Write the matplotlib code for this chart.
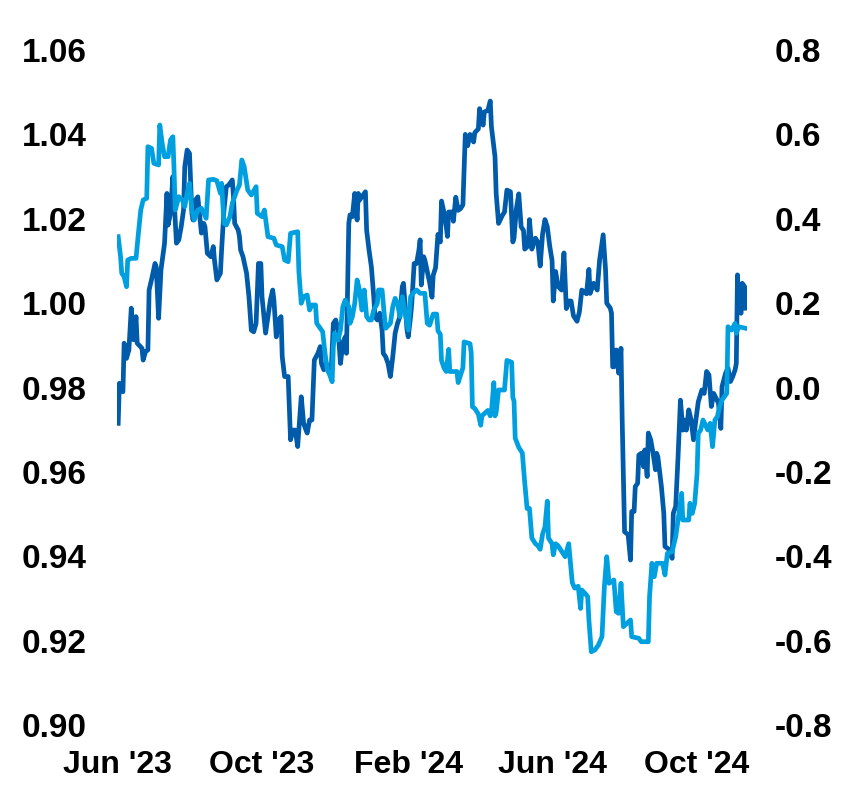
import matplotlib
matplotlib.use("Agg")
import numpy as np
import pandas as pd
import matplotlib.pyplot as plt
import matplotlib.dates as mdates
from matplotlib.ticker import FormatStrFormatter

# days counted from 1 Jun 2023
start = pd.Timestamp("2023-06-01")

dark_day = [1, 2, 5, 6, 8, 10, 12, 14, 16, 17, 21, 22, 24, 26, 27, 29, 32, 33, 35, 37,
            40, 42, 43, 45, 47, 50, 52, 54, 56, 57, 59, 61, 63, 64, 66, 68, 71, 73, 74, 76,
            79, 81, 82, 84, 87, 88, 90, 92, 94, 97, 98, 99, 102, 103, 104, 106, 109, 111, 113, 115,
            117, 119, 121, 122, 125, 129, 131, 132, 134, 136, 138, 139, 141, 144, 146, 148, 150, 152, 155, 157,
            159, 160, 162, 164, 166, 169, 171, 172, 174, 176, 178, 180, 182, 184, 186, 188, 190, 192, 193, 195,
            196, 198, 200, 202, 203, 204, 206, 209, 210, 212, 214, 216, 217, 219, 221, 223, 224, 226, 228, 230,
            232, 234, 236, 238, 240, 241, 244, 245, 247, 248, 250, 252, 254, 255, 256, 258, 259, 261, 263, 265,
            266, 268, 270, 272, 273, 275, 277, 278, 279, 282, 283, 285, 287, 289, 291, 293, 295, 297, 300, 301,
            304, 305, 308, 309, 312, 314, 315, 318, 319, 321, 324, 326, 328, 331, 333, 334, 336, 338, 340, 342,
            343, 346, 347, 349, 352, 354, 356, 358, 360, 362, 364, 366, 367, 369, 371, 374, 376, 378, 380, 382,
            384, 387, 389, 391, 393, 395, 397, 398, 401, 404, 406, 409, 411, 412, 415, 416, 417, 418, 420, 422,
            424, 425, 427, 430, 432, 433, 435, 436, 438, 439, 441, 443, 444, 446, 447, 449, 451, 453, 454, 455,
            458, 460, 461, 465, 467, 468, 470, 472, 474, 476, 477, 479, 481, 483, 485, 487, 489, 492, 494, 496,
            498, 500, 502, 506, 508, 509, 512, 514, 516, 518, 520, 521, 522, 523, 525, 526, 528, 529]
dark_val = [0.9715, 0.9810, 0.9790, 0.9905, 0.9869, 0.9889, 0.9988, 0.9913, 0.9968, 0.9905,
            0.9893, 0.9865, 0.9885, 0.9889, 1.0031, 1.0055, 1.0094, 1.0086, 0.9964, 1.0079,
            1.0142, 1.0260, 1.0185, 1.0213, 1.0300, 1.0142, 1.0150, 1.0181, 1.0221, 1.0323,
            1.0363, 1.0355, 1.0213, 1.0197, 1.0244, 1.0252, 1.0166, 1.0189, 1.0181, 1.0118,
            1.0110, 1.0134, 1.0102, 1.0055, 1.0071, 1.0126, 1.0221, 1.0276, 1.0280, 1.0292,
            1.0252, 1.0189, 1.0173, 1.0158, 1.0126, 1.0110, 1.0071, 1.0015, 0.9936, 0.9932,
            0.9952, 1.0094, 1.0094, 1.0015, 0.9929, 1.0007, 1.0031, 1.0007, 0.9920, 0.9960,
            0.9968, 0.9873, 0.9826, 0.9826, 0.9676, 0.9699, 0.9699, 0.9660, 0.9778, 0.9715,
            0.9699, 0.9692, 0.9723, 0.9723, 0.9865, 0.9881, 0.9897, 0.9857, 0.9842, 0.9857,
            0.9842, 0.9826, 0.9952, 0.9960, 0.9936, 0.9857, 0.9905, 0.9920, 0.9881, 1.0189,
            1.0209, 1.0205, 1.0260, 1.0197, 1.0260, 1.0244, 1.0252, 1.0264, 1.0173, 1.0126,
            1.0086, 1.0015, 0.9968, 0.9960, 0.9976, 0.9936, 0.9881, 0.9873, 0.9857, 0.9826,
            0.9873, 0.9929, 0.9952, 0.9968, 1.0039, 1.0047, 0.9936, 0.9920, 0.9968, 1.0000,
            1.0094, 1.0094, 1.0126, 1.0150, 1.0043, 1.0110, 1.0102, 1.0075, 1.0049, 1.0014,
            1.0066, 1.0084, 1.0163, 1.0145, 1.0242, 1.0216, 1.0181, 1.0158, 1.0216, 1.0216,
            1.0194, 1.0251, 1.0220, 1.0224, 1.0233, 1.0400, 1.0373, 1.0400, 1.0382, 1.0404,
            1.0413, 1.0461, 1.0422, 1.0453, 1.0457, 1.0479, 1.0418, 1.0347, 1.0259, 1.0189,
            1.0207, 1.0216, 1.0268, 1.0264, 1.0145, 1.0154, 1.0224, 1.0259, 1.0181, 1.0172,
            1.0128, 1.0136, 1.0198, 1.0128, 1.0154, 1.0145, 1.0088, 1.0163, 1.0198, 1.0181,
            1.0136, 1.0101, 1.0005, 1.0075, 1.0040, 1.0031, 1.0119, 0.9987, 1.0005, 1.0005,
            0.9970, 0.9957, 0.9979, 1.0031, 1.0027, 1.0022, 1.0080, 1.0023, 1.0047, 1.0031,
            1.0102, 1.0162, 1.0079, 1.0000, 0.9988, 0.9976, 0.9849, 0.9849, 0.9889, 0.9834,
            0.9893, 0.9723, 0.9458, 0.9451, 0.9391, 0.9506, 0.9506, 0.9565, 0.9573, 0.9640,
            0.9644, 0.9612, 0.9652, 0.9589, 0.9692, 0.9676, 0.9644, 0.9605, 0.9644, 0.9636,
            0.9565, 0.9502, 0.9423, 0.9415, 0.9395, 0.9502, 0.9518, 0.9636, 0.9770, 0.9699,
            0.9723, 0.9699, 0.9747, 0.9723, 0.9676, 0.9723, 0.9766, 0.9794, 0.9786, 0.9838,
            0.9830, 0.9755, 0.9786, 0.9763, 0.9703, 0.9802, 0.9834, 0.9846, 0.9814, 0.9826,
            0.9842, 0.9857, 1.0067, 0.9992, 0.9976, 1.0047, 1.0039, 0.9988]

light_day = [1, 3, 4, 6, 8, 9, 12, 16, 18, 20, 22, 25, 26, 29, 31, 35, 36, 38, 40, 43,
             45, 47, 48, 49, 52, 55, 57, 59, 61, 63, 65, 68, 71, 73, 75, 77, 81, 84, 87, 88,
             90, 92, 95, 97, 101, 103, 105, 107, 110, 113, 117, 118, 122, 124, 127, 132, 134, 139, 141, 144,
             146, 152, 153, 155, 157, 160, 162, 164, 167, 168, 173, 175, 177, 179, 181, 182, 183, 186, 188, 190,
             192, 195, 196, 198, 200, 202, 204, 206, 208, 210, 212, 214, 216, 219, 220, 223, 225, 226, 230, 232,
             234, 236, 238, 240, 242, 245, 247, 249, 252, 255, 259, 261, 263, 266, 269, 270, 272, 273, 275, 277,
             279, 280, 286, 287, 289, 291, 292, 297, 298, 299, 301, 304, 306, 307, 312, 314, 315, 317, 318, 319,
             321, 326, 328, 332, 333, 334, 335, 338, 341, 343, 345, 347, 349, 352, 354, 356, 358, 360, 362, 363,
             366, 367, 369, 371, 374, 377, 380, 383, 385, 388, 390, 391, 394, 396, 397, 399, 402, 405, 408, 410,
             412, 414, 418, 420, 422, 424, 426, 432, 433, 439, 441, 447, 448, 450, 452, 454, 459, 461, 463, 467,
             470, 472, 475, 476, 481, 482, 484, 486, 488, 489, 491, 493, 497, 499, 501, 503, 505, 507, 509, 513,
             514, 517, 520, 521, 523, 529]
light_val = [0.3575, 0.3100, 0.2707, 0.2626, 0.2389, 0.3022, 0.3062, 0.3062, 0.3655, 0.4207,
             0.4444, 0.4485, 0.5708, 0.5670, 0.5314, 0.5274, 0.6222, 0.5788, 0.5471, 0.5471,
             0.5867, 0.5945, 0.5156, 0.4207, 0.4523, 0.4444, 0.4286, 0.4603, 0.4840, 0.4207,
             0.3970, 0.4207, 0.4248, 0.4129, 0.4011, 0.4919, 0.4935, 0.4902, 0.4603, 0.4840,
             0.3892, 0.3852, 0.4049, 0.4366, 0.4681, 0.4800, 0.5393, 0.5234, 0.4681, 0.4563,
             0.4760, 0.4129, 0.4049, 0.4207, 0.3575, 0.3537, 0.3378, 0.3338, 0.3022, 0.2982,
             0.3655, 0.3693, 0.2745, 0.1996, 0.2152, 0.2193, 0.1837, 0.1956, 0.1956, 0.1522,
             0.1323, 0.0811, 0.0415, 0.0296, 0.0137, 0.0967, 0.1285, 0.1126, 0.1363, 0.1915,
             0.2074, 0.1915, 0.1522, 0.1678, 0.1996, 0.2548, 0.2311, 0.1837, 0.2311, 0.1678,
             0.1600, 0.1600, 0.1837, 0.1996, 0.2311, 0.2311, 0.1678, 0.1403, 0.1522, 0.1915,
             0.2114, 0.1996, 0.1678, 0.2152, 0.1837, 0.1363, 0.2152, 0.2233, 0.2311, 0.2233,
             0.2233, 0.1522, 0.1477, 0.1740, 0.1740, 0.1346, 0.1259, 0.0642, 0.0467, 0.0379,
             0.0905, 0.0379, 0.0379, 0.0116, 0.0291, 0.0467, 0.1081, 0.1038, 0.0818, -0.0455,
             -0.0498, -0.0631, -0.0894, -0.0673, -0.0543, -0.0673, -0.0586, 0.0116, -0.0673, -0.0586,
             -0.0059, -0.0059, 0.0642, 0.0600, -0.0235, -0.0322, -0.1200, -0.1420, -0.1553, -0.2254,
             -0.2868, -0.2868, -0.3570, -0.3703, -0.3748, -0.3835, -0.3482, -0.3307, -0.2693, -0.3570,
             -0.3703, -0.3966, -0.3703, -0.3748, -0.3878, -0.4011, -0.3703, -0.4625, -0.4755, -0.4712,
             -0.5239, -0.4800, -0.4888, -0.4959, -0.5511, -0.6263, -0.6222, -0.6104, -0.5907, -0.4722,
             -0.4011, -0.4641, -0.4563, -0.5315, -0.5352, -0.4641, -0.5670, -0.5511, -0.5907, -0.5945,
             -0.6026, -0.6026, -0.4959, -0.4167, -0.4485, -0.4167, -0.4167, -0.4444, -0.3930, -0.3892,
             -0.3537, -0.3141, -0.2508, -0.3141, -0.3141, -0.2745, -0.2982, -0.2745, -0.2034, -0.1086,
             -0.1007, -0.0770, -0.1007, -0.0849, -0.1403, -0.0770, -0.0692, -0.0455, -0.0296, -0.0138,
             0.1441, 0.1363, 0.1522, 0.1285, 0.1441, 0.1403]

left_ticks = [0.90, 0.92, 0.94, 0.96, 0.98, 1.00, 1.02, 1.04, 1.06]
right_ticks = [-0.8, -0.6, -0.4, -0.2, 0.0, 0.2, 0.4, 0.6, 0.8]
month_ticks = ["2023-06-01", "2023-10-01", "2024-02-01", "2024-06-01", "2024-10-01"]

assert len(dark_day) == len(dark_val)
assert len(light_day) == len(light_val)

plt.rcParams["font.family"] = ["Liberation Sans", "DejaVu Sans"]
plt.rcParams["font.weight"] = "bold"
plt.rcParams["axes.unicode_minus"] = False

dark_dates = start + pd.to_timedelta(dark_day, unit="D")
light_dates = start + pd.to_timedelta(light_day, unit="D")

W, H = 852, 785
fig = plt.figure(figsize=(W / 100, H / 100), dpi=100)
ax = fig.add_axes([117 / W, 1 - 725 / H, 630 / W, 675 / H])
ax2 = ax.twinx()

ax.plot(dark_dates, dark_val, color="#005BAA", lw=3.4, solid_joinstyle="round")
ax2.plot(light_dates, light_val, color="#00A0E0", lw=3.4, solid_joinstyle="round")

ax.set_xlim(start, start + pd.Timedelta(days=530))
ax.set_ylim(0.90, 1.06)
ax2.set_ylim(-0.8, 0.8)

ax.set_yticks(left_ticks)
ax.yaxis.set_major_formatter(FormatStrFormatter("%.2f"))
ax2.set_yticks(right_ticks)
ax2.yaxis.set_major_formatter(FormatStrFormatter("%.1f"))
ax.set_xticks(pd.to_datetime(month_ticks))
ax.xaxis.set_major_formatter(mdates.DateFormatter("%b '%y"))

for a in (ax, ax2):
    for s in a.spines.values():
        s.set_visible(False)
ax.tick_params(axis="y", length=0, pad=22, labelsize=24)
ax2.tick_params(axis="y", length=0, pad=20, labelsize=24)
ax.tick_params(axis="x", length=0, pad=18, labelsize=23)

fig.savefig("out.png", dpi=100)
